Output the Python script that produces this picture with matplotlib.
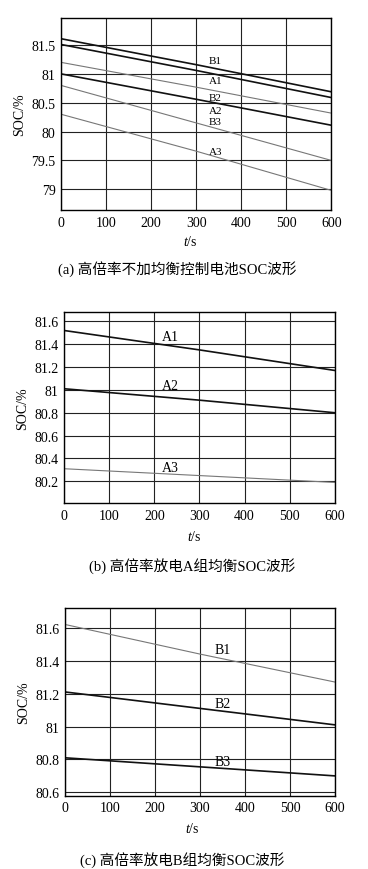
import matplotlib.pyplot as plt
from matplotlib.ticker import FuncFormatter

plt.rcParams['font.family'] = ['Liberation Serif', 'Noto Sans CJK SC']
plt.rcParams['mathtext.fontset'] = 'custom'
plt.rcParams['mathtext.it'] = 'Liberation Serif:italic'
plt.rcParams['mathtext.rm'] = 'Liberation Serif'

t = [0, 300, 600]

# (a) 不加均衡
a_names = ['B1', 'A1', 'B2', 'A2', 'B3', 'A3']
a_values = [
    [81.61, 81.16, 80.69],
    [81.51, 81.06, 80.59],
    [81.20, 80.77, 80.32],
    [81.00, 80.56, 80.11],
    [80.80, 80.15, 79.50],
    [80.30, 79.66, 78.98],
]
a_dark = [True, True, False, True, False, False]
a_label_y = [81.24, 80.88, 80.59, 80.36, 80.17, 79.65]

# (b) A组均衡
b_names = ['A1', 'A2', 'A3']
b_values = [
    [81.52, 81.35, 81.17],
    [81.01, 80.91, 80.80],
    [80.31, 80.25, 80.19],
]
b_dark = [True, True, False]
b_label_y = [81.47, 81.04, 80.32]

# (c) B组均衡
c_names = ['B1', 'B2', 'B3']
c_values = [
    [81.62, 81.44, 81.27],
    [81.21, 81.11, 81.01],
    [80.81, 80.755, 80.70],
]
c_dark = [False, True, True]
c_label_y = [81.47, 81.14, 80.79]

captions = ['(a) 高倍率不加均衡控制电池SOC波形',
            '(b) 高倍率放电A组均衡SOC波形',
            '(c) 高倍率放电B组均衡SOC波形']

fig = plt.figure(figsize=(3.68, 8.70), dpi=100)

panels = [
    dict(rect=[0.166, 0.7575, 0.734, 0.2207], names=a_names, values=a_values,
         dark=a_dark, ly=a_label_y, lx=343, lfs=8, ylim=(78.64, 81.97),
         yticks=[79, 79.5, 80, 80.5, 81, 81.5],
         xl=(0.516, 0.722), cap=(0.482, 0.691)),
    dict(rect=[0.174, 0.4207, 0.736, 0.2193], names=b_names, values=b_values,
         dark=b_dark, ly=b_label_y, lx=235, lfs=10, ylim=(80.01, 81.68),
         yticks=[80.2, 80.4, 80.6, 80.8, 81, 81.2, 81.4, 81.6],
         xl=(0.528, 0.383), cap=(0.523, 0.349)),
    dict(rect=[0.1766, 0.0843, 0.734, 0.2157], names=c_names, values=c_values,
         dark=c_dark, ly=c_label_y, lx=351, lfs=10, ylim=(80.58, 81.72),
         yticks=[80.6, 80.8, 81, 81.2, 81.4, 81.6],
         xl=(0.522, 0.047), cap=(0.496, 0.012)),
]

fmt = FuncFormatter(lambda v, p: ('%.2f' % v).rstrip('0').rstrip('.'))

for i, p in enumerate(panels):
    ax = fig.add_axes(p['rect'])
    for name, vals, dark in zip(p['names'], p['values'], p['dark']):
        if dark:
            ax.plot(t, vals, color='#111111', lw=1.2)
        else:
            ax.plot(t, vals, color='#777777', lw=0.8)
    for name, y in zip(p['names'], p['ly']):
        ax.text(p['lx'], y, name, fontsize=p['lfs'], ha='center', va='center')
    ax.set_xlim(0, 600)
    ax.set_ylim(*p['ylim'])
    ax.set_xticks([0, 100, 200, 300, 400, 500, 600])
    ax.set_yticks(p['yticks'])
    ax.yaxis.set_major_formatter(fmt)
    ax.grid(True, color='#222222', lw=0.8)
    ax.tick_params(length=0, labelsize=10, pad=4)
    for s in ax.spines.values():
        s.set_linewidth(1.0)
    ax.set_ylabel('SOC/%', fontsize=10, labelpad=4)
    fig.text(p['xl'][0], p['xl'][1], r'$t$/s', fontsize=10, ha='center', va='center')
    fig.text(p['cap'][0], p['cap'][1], captions[i], fontsize=10.5, ha='center', va='center')

fig.savefig('out.png', dpi=100)
